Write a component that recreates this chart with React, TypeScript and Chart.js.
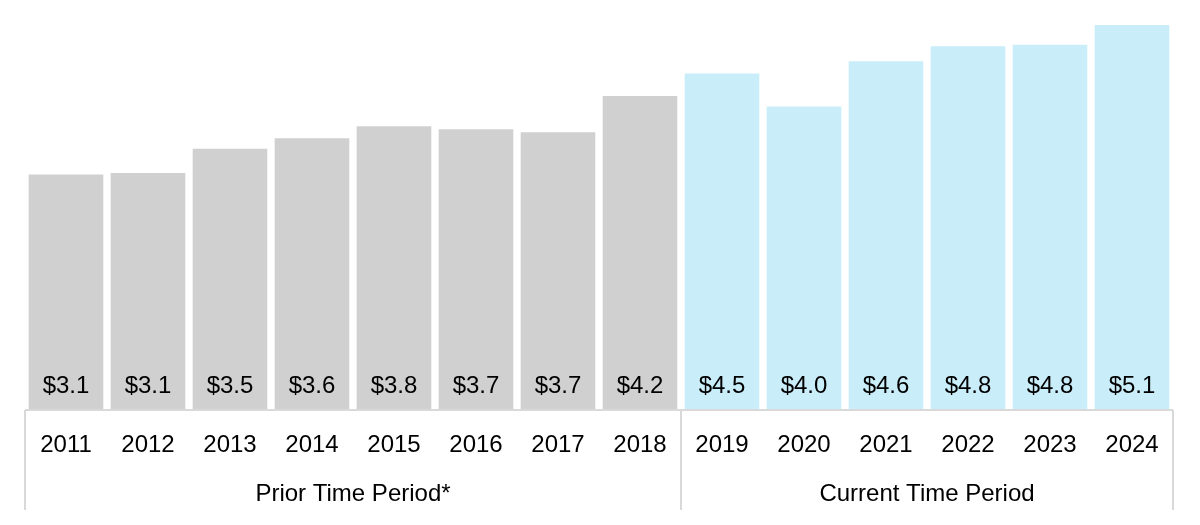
import React, { useEffect, useRef } from "react";
import { Chart, registerables } from "chart.js";

Chart.register(...registerables);

const years = ["2011", "2012", "2013", "2014", "2015", "2016", "2017", "2018", "2019", "2020", "2021", "2022", "2023", "2024"];
const values = [3.12, 3.14, 3.46, 3.6, 3.76, 3.72, 3.68, 4.16, 4.46, 4.02, 4.62, 4.82, 4.84, 5.1];
const groupLabels = ["Prior Time Period*", "Current Time Period"];
const groupSizes = [8, 6];
const groupColors = ["#D0D0D0", "#CAEDFA"];

const FONT = '"Liberation Sans", Arial, sans-serif';
const LINE = "#D9D9D9";
const TEXT = "#000000";

const barColors: string[] = [];
groupSizes.forEach((n, g) => {
  for (let i = 0; i < n; i++) barColors.push(groupColors[g]);
});

const overlay = {
  id: "overlay",
  afterDatasetsDraw(chart: any) {
    const { ctx } = chart;
    const meta = chart.getDatasetMeta(0);
    ctx.save();
    ctx.fillStyle = TEXT;
    ctx.font = `24px ${FONT}`;
    ctx.textAlign = "center";
    ctx.textBaseline = "alphabetic";
    meta.data.forEach((bar: any, i: number) => {
      ctx.fillText("$" + values[i].toFixed(1), bar.x, chart.chartArea.bottom - 17);
    });
    ctx.restore();
  },
  afterDraw(chart: any) {
    const { ctx, chartArea } = chart;
    const x = chart.scales.x;
    const bottom = chartArea.bottom;
    const boxBottom = bottom + 100;
    ctx.save();
    ctx.strokeStyle = LINE;
    ctx.lineWidth = 2;
    ctx.beginPath();
    ctx.moveTo(chartArea.left, bottom);
    ctx.lineTo(chartArea.right, bottom);
    ctx.stroke();

    const half = (x.getPixelForValue(1) - x.getPixelForValue(0)) / 2;
    let start = 0;
    const bounds: number[] = [x.getPixelForValue(0) - half];
    groupSizes.forEach((n) => {
      start += n;
      bounds.push(x.getPixelForValue(start - 1) + half);
    });
    bounds.forEach((bx) => {
      ctx.beginPath();
      ctx.moveTo(bx, bottom);
      ctx.lineTo(bx, boxBottom);
      ctx.stroke();
    });

    ctx.fillStyle = TEXT;
    ctx.font = `24px ${FONT}`;
    ctx.textAlign = "center";
    ctx.textBaseline = "alphabetic";
    years.forEach((y, i) => {
      ctx.fillText(y, x.getPixelForValue(i), bottom + 42);
    });
    groupLabels.forEach((g, i) => {
      ctx.fillText(g, (bounds[i] + bounds[i + 1]) / 2, bottom + 91);
    });
    ctx.restore();
  },
};

export default function App() {
  const ref = useRef<HTMLCanvasElement | null>(null);
  useEffect(() => {
    if (!ref.current) return;
    const chart = new Chart(ref.current, {
      type: "bar",
      data: {
        labels: years,
        datasets: [
          {
            data: values,
            backgroundColor: barColors,
            borderWidth: 0,
            categoryPercentage: 1,
            barPercentage: 0.91,
          },
        ],
      },
      options: {
        animation: false,
        responsive: true,
        maintainAspectRatio: false,
        layout: { padding: { left: 25, right: 27, top: 10, bottom: 115 } },
        plugins: { legend: { display: false }, tooltip: { enabled: false } },
        scales: {
          x: { display: false },
          y: { display: false, min: 0, max: 5.3 },
        },
      },
      plugins: [overlay],
    });
    return () => chart.destroy();
  }, []);
  return (
    <div style={{ position: "fixed", left: 0, top: 0, width: 1200, height: 525, background: "#fff" }}>
      <canvas ref={ref} />
    </div>
  );
}
